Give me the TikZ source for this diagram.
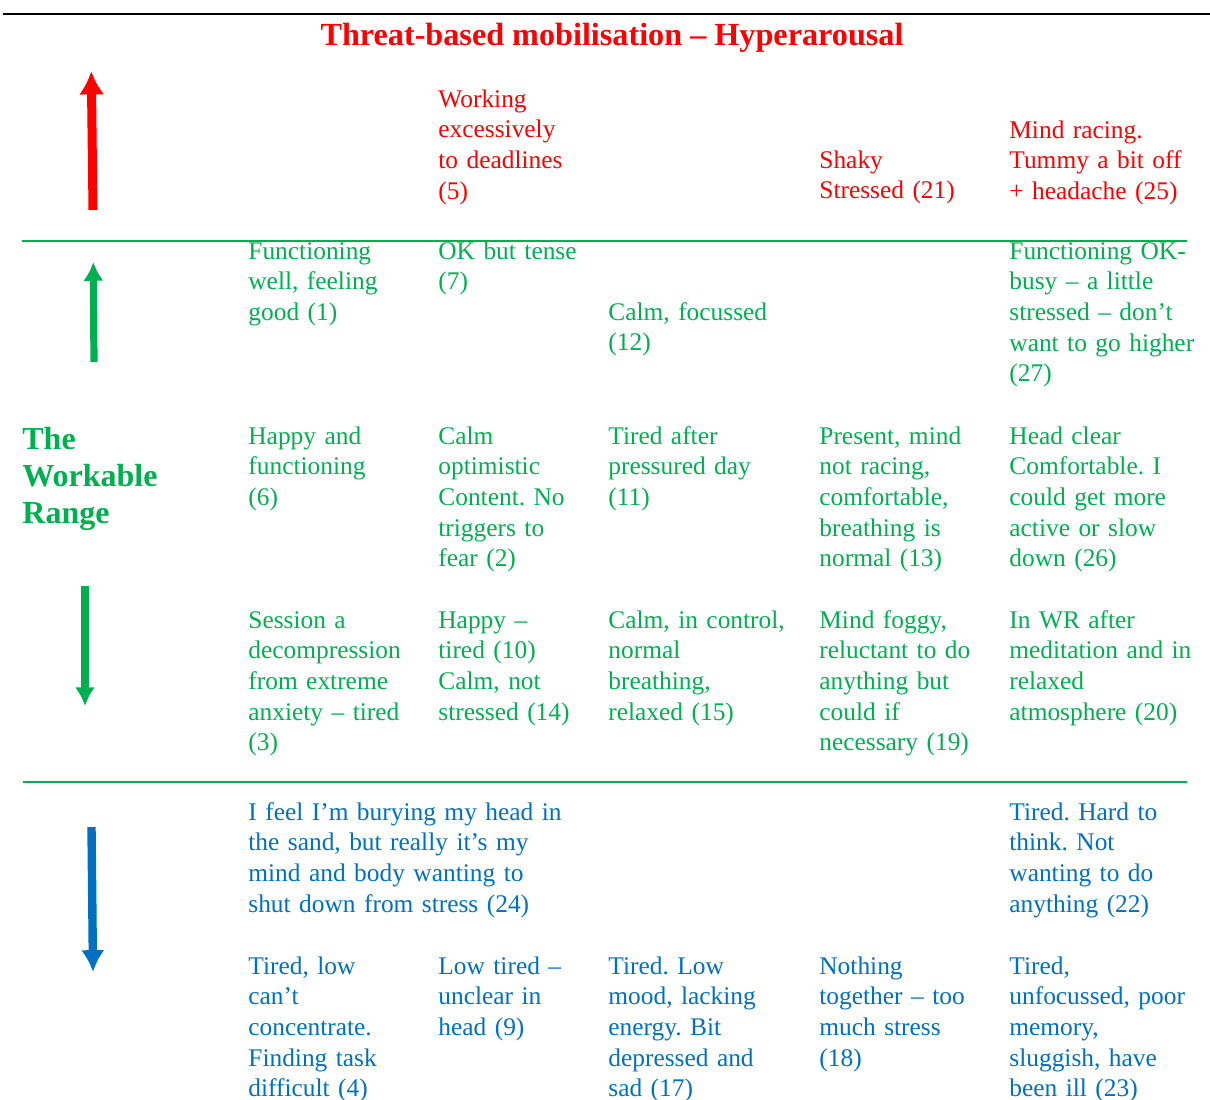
\documentclass[tikz,border=0pt]{standalone}
\usepackage{fontspec}
\setmainfont{Liberation Serif}
\usepackage{tikz}
\usetikzlibrary{arrows.meta}
\definecolor{hyper}{HTML}{FF0000}
\definecolor{workable}{HTML}{00B050}
\definecolor{hypo}{HTML}{0070C0}
\tikzset{>=latex}
\tikzset{
    cell/.style={anchor=base west, inner sep=0pt, align=left, text width=110pt,
        font=\fontsize{12.7}{15.35}\selectfont\frenchspacing},
    widecell/.style={cell, text width=175pt},
    bigarrow/.style={line width=#1, -{Latex[length=2.6*#1, width=2.8*#1]}},
    divider/.style={workable, line width=0.6pt}
}

\begin{document}
\begin{tikzpicture}[x=0.5pt, y=-0.5pt]
    \useasboundingbox (0, 0) rectangle (1210, 1099);
    \draw[line width=1pt](3, 14)--(1210, 14);
    \node[anchor=base, hyper, font=\fontsize{16.1}{19}\selectfont\bfseries](title) at (612, 45){Threat-based mobilisation -- Hyperarousal};

    \coordinate (redtail) at (93, 210);
    \coordinate (redtip) at (91.3, 71);
    \coordinate (uptail) at (94, 362);
    \coordinate (uptip) at (93.3, 262);
    \coordinate (downtail) at (85, 586);
    \coordinate (downtip) at (85, 706);
    \coordinate (bluetail) at (91.5, 827);
    \coordinate (bluetip) at (93, 972);
    \draw[->, bigarrow=4.5pt, hyper](redtail)--(redtip);
    \draw[->, bigarrow=3.6pt, workable](uptail)--(uptip);
    \draw[->, bigarrow=3.6pt, workable](downtail)--(downtip);
    \draw[->, bigarrow=4.2pt, hypo](bluetail)--(bluetip);

    \coordinate (upperleft) at (22, 241);
    \coordinate (upperright) at (1187, 241);
    \coordinate (lowerleft) at (23, 782);
    \coordinate (lowerright) at (1187, 782);
    \draw[divider](upperleft)--(upperright);
    \draw[divider](lowerleft)--(lowerright);

    \node[anchor=base west, inner sep=0pt, align=left, text width=120pt, workable,
        font=\fontsize{16}{18.5}\selectfont\bfseries](range) at (22, 449){The\\Workable\\Range};

    \node[cell, hyper](s5) at (438, 107){Working\\excessively\\to deadlines\\(5)};
    \node[cell, hyper](s21) at (819, 168){Shaky\\Stressed (21)};
    \node[cell, hyper](s25) at (1009, 138){Mind racing.\\Tummy a bit off\\+ headache (25)};

    \node[cell, workable](s1) at (248, 259){Functioning\\well, feeling\\good (1)};
    \node[cell, workable](s7) at (438, 259){OK but tense\\(7)};
    \node[cell, workable](s12) at (608, 320){Calm, focussed\\(12)};
    \node[cell, workable](s27) at (1009, 259){Functioning OK-\\busy -- a little\\stressed -- don't\\want to go higher\\(27)};

    \node[cell, workable](s6) at (248, 444){Happy and\\functioning\\(6)};
    \node[cell, workable](s2) at (438, 444){Calm\\optimistic\\Content. No\\triggers to\\fear (2)};
    \node[cell, workable](s11) at (608, 444){Tired after\\pressured day\\(11)};
    \node[cell, workable](s13) at (819, 444){Present, mind\\not racing,\\comfortable,\\breathing is\\normal (13)};
    \node[cell, workable](s26) at (1009, 444){Head clear\\Comfortable. I\\could get more\\active or slow\\down (26)};

    \node[cell, workable](s3) at (248, 628){Session a\\decompression\\from extreme\\anxiety -- tired\\(3)};
    \node[cell, workable](s10) at (438, 628){Happy --\\tired (10)\\Calm, not\\stressed (14)};
    \node[cell, workable](s15) at (608, 628){Calm, in control,\\normal\\breathing,\\relaxed (15)};
    \node[cell, workable](s19) at (819, 628){Mind foggy,\\reluctant to do\\anything but\\could if\\necessary (19)};
    \node[cell, workable](s20) at (1009, 628){In WR after\\meditation and in\\relaxed\\atmosphere (20)};

    \node[widecell, hypo](s24) at (248, 820){I feel I'm burying my head in\\the sand, but really it's my\\mind and body wanting to\\shut down from stress (24)};
    \node[cell, hypo](s22) at (1009, 820){Tired. Hard to\\think. Not\\wanting to do\\anything (22)};

    \node[cell, hypo](s4) at (248, 974){Tired, low\\can't\\concentrate.\\Finding task\\difficult (4)};
    \node[cell, hypo](s9) at (438, 974){Low tired --\\unclear in\\head (9)};
    \node[cell, hypo](s17) at (608, 974){Tired. Low\\mood, lacking\\energy. Bit\\depressed and\\sad (17)};
    \node[cell, hypo](s18) at (819, 974){Nothing\\together -- too\\much stress\\(18)};
    \node[cell, hypo](s23) at (1009, 974){Tired,\\unfocussed, poor\\memory,\\sluggish, have\\been ill (23)};
\end{tikzpicture}
\end{document}
